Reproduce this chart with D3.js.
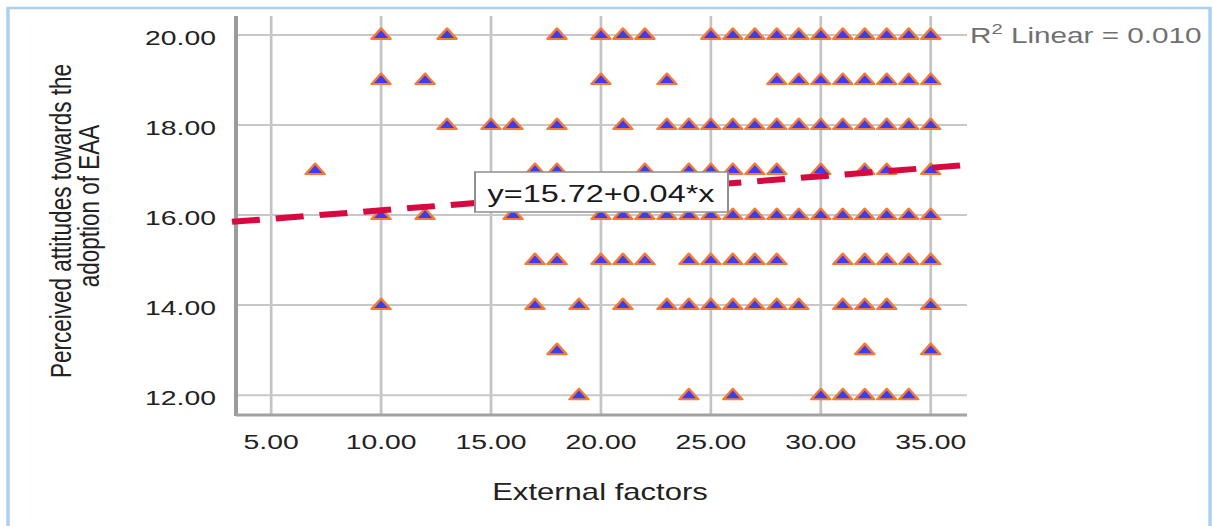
<!DOCTYPE html>
<html>
<head>
<meta charset="utf-8">
<script src="https://cdn.jsdelivr.net/npm/d3@7"></script>
<style>
  html, body { margin: 0; padding: 0; background: #fff; }
  svg { display: block; }
  text { font-family: "Liberation Sans", Arial, sans-serif; }
</style>
</head>
<body>
<script>
// external factors scores seen at each attitude level
var attitudeLevels = [20, 19, 18, 17, 16, 15, 14, 13, 12];
var ext20 = [10, 13, 18, 20, 21, 22, 25, 26, 27, 28, 29, 30, 31, 32, 33, 34, 35];
var ext19 = [10, 12, 20, 23, 28, 29, 30, 31, 32, 33, 34, 35];
var ext18 = [13, 15, 16, 18, 21, 23, 24, 25, 26, 27, 28, 29, 30, 31, 32, 33, 34, 35];
var ext17 = [7, 17, 18, 22, 24, 25, 26, 27, 28, 30, 32, 33, 35];
var ext16 = [10, 12, 16, 20, 21, 22, 23, 24, 25, 26, 27, 28, 29, 30, 31, 32, 33, 34, 35];
var ext15 = [17, 18, 20, 21, 22, 24, 25, 26, 27, 28, 31, 32, 33, 34, 35];
var ext14 = [10, 17, 19, 21, 23, 24, 25, 26, 27, 28, 29, 31, 32, 33, 35];
var ext13 = [18, 32, 35];
var ext12 = [19, 24, 26, 30, 31, 32, 33, 34];

var xTicks = [5, 10, 15, 20, 25, 30, 35];
var yTicks = [12, 14, 16, 18, 20];

// linear fit
var fitIntercept = 15.72;
var fitSlope = 0.038;
var fitText = "y=15.72+0.04*x";
var r2Value = "0.010";

var xTitle = "External factors";
var yTitleLines = ["Perceived attitudes towards the", "adoption of EAA"];

var W = 1213, H = 526;
var S = 1.35; // the picture is stretched sideways, so draw in a squeezed space
function ix(v) { return v / S; }

var svg = d3.select("body").append("svg")
  .attr("width", W)
  .attr("height", H)
  .attr("viewBox", "0 0 " + ix(W) + " " + H)
  .attr("preserveAspectRatio", "none");

var x = d3.scaleLinear().domain([3.4, 36.65]).range([ix(236), ix(967)]);
var y = d3.scaleLinear().domain([11.56, 20.42]).range([415, 16]);

// light blue frame
svg.append("rect")
  .attr("x", ix(8)).attr("y", 8)
  .attr("width", ix(1202)).attr("height", 540)
  .attr("fill", "none")
  .attr("stroke", "#a9d0ee")
  .attr("stroke-width", 2.5);

// grid
svg.append("g").selectAll("line")
  .data(xTicks)
  .enter().append("line")
  .attr("x1", function (d) { return x(d); })
  .attr("x2", function (d) { return x(d); })
  .attr("y1", y.range()[1])
  .attr("y2", y.range()[0])
  .attr("stroke", "#c4c4c4")
  .attr("stroke-width", 2);

svg.append("g").selectAll("line")
  .data(yTicks)
  .enter().append("line")
  .attr("x1", x.range()[0])
  .attr("x2", x.range()[1])
  .attr("y1", function (d) { return y(d); })
  .attr("y2", function (d) { return y(d); })
  .attr("stroke", "#c8c8c8")
  .attr("stroke-width", 2);

// axis lines
svg.append("line")
  .attr("x1", x.range()[0]).attr("x2", x.range()[0])
  .attr("y1", y.range()[1]).attr("y2", y.range()[0] + 1)
  .attr("stroke", "#9c9c9c").attr("stroke-width", 3);
svg.append("line")
  .attr("x1", x.range()[0]).attr("x2", x.range()[1])
  .attr("y1", y.range()[0]).attr("y2", y.range()[0])
  .attr("stroke", "#a2a2a2").attr("stroke-width", 3);

// tick labels
svg.append("g").selectAll("text")
  .data(yTicks)
  .enter().append("text")
  .attr("x", ix(216))
  .attr("y", function (d) { return y(d) + 10; })
  .attr("text-anchor", "end")
  .attr("font-size", 21)
  .attr("fill", "#222")
  .text(function (d) { return d3.format(".2f")(d); });

svg.append("g").selectAll("text")
  .data(xTicks)
  .enter().append("text")
  .attr("x", function (d) { return x(d); })
  .attr("y", 449)
  .attr("text-anchor", "middle")
  .attr("font-size", 21)
  .attr("fill", "#222")
  .text(function (d) { return d3.format(".2f")(d); });

// axis titles
svg.append("text")
  .attr("x", ix(600))
  .attr("y", 500)
  .attr("text-anchor", "middle")
  .attr("font-size", 23)
  .attr("fill", "#222")
  .text(xTitle);

var yTitleX = [ix(71), ix(99)];
var yTitleY = [221, 206];
svg.append("g").selectAll("text")
  .data(yTitleLines)
  .enter().append("text")
  .attr("transform", function (d, i) {
    return "translate(" + yTitleX[i] + "," + yTitleY[i] + ") rotate(-90)";
  })
  .attr("text-anchor", "middle")
  .attr("font-size", 22.5)
  .attr("fill", "#222")
  .text(function (d) { return d; });

// points
var extByLevel = [ext20, ext19, ext18, ext17, ext16, ext15, ext14, ext13, ext12];
var points = [];
attitudeLevels.forEach(function (lvl, i) {
  extByLevel[i].forEach(function (e) {
    points.push({ ext: e, att: lvl });
  });
});

svg.append("g").selectAll("path")
  .data(points)
  .enter().append("path")
  .attr("transform", function (d) {
    return "translate(" + x(d.ext) + "," + y(d.att) + ")";
  })
  .attr("d", "M0,-6.5L7,4L-7,4Z")
  .attr("fill", "#3d3df0")
  .attr("stroke", "#f47a35")
  .attr("stroke-width", 2)
  .attr("stroke-linejoin", "round");

// fit line
var xDom = x.domain();
svg.append("line")
  .attr("x1", x(xDom[0]) - ix(4))
  .attr("x2", x(xDom[1]))
  .attr("y1", y(fitIntercept + fitSlope * xDom[0]))
  .attr("y2", y(fitIntercept + fitSlope * xDom[1]))
  .attr("stroke", "#d60a40")
  .attr("stroke-width", 6)
  .attr("stroke-dasharray", ix(28) + "," + ix(16));

// equation box
svg.append("rect")
  .attr("x", ix(475)).attr("y", 172)
  .attr("width", ix(253)).attr("height", 40)
  .attr("fill", "#fff")
  .attr("stroke", "#8f8f8f")
  .attr("stroke-width", 1.5);
svg.append("text")
  .attr("x", ix(601))
  .attr("y", 202)
  .attr("text-anchor", "middle")
  .attr("font-size", 24)
  .attr("fill", "#1a1a1a")
  .text(fitText);

// r squared note
var r2 = svg.append("text")
  .attr("x", ix(970))
  .attr("y", 43)
  .attr("font-size", 22)
  .attr("fill", "#707070");
r2.append("tspan").text("R");
r2.append("tspan").attr("font-size", 15).attr("dy", -9).text("2");
r2.append("tspan").attr("dy", 9).text(" Linear = " + r2Value);
</script>
</body>
</html>
